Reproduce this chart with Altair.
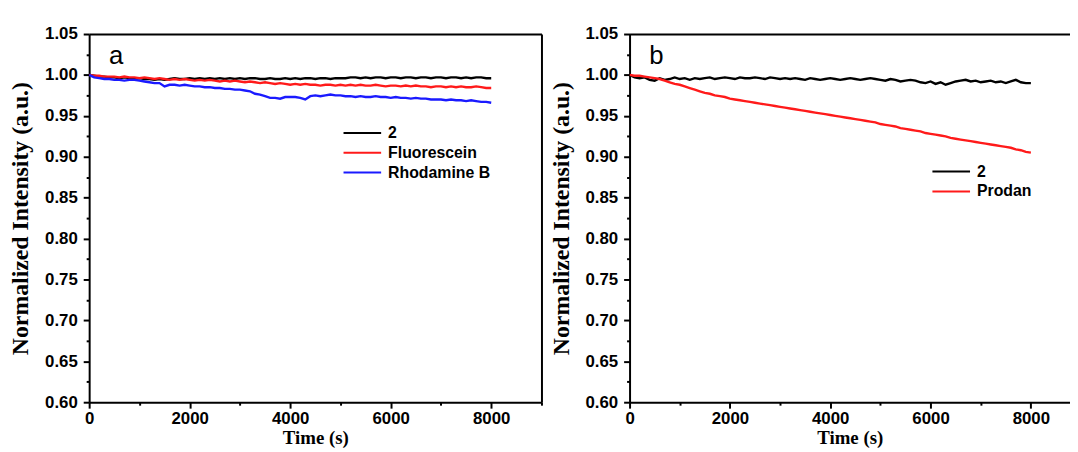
import altair as alt
import pandas as pd

# ---------------- data ----------------
TIME = list(range(0, 8001, 100))

A_SERIES = ["2", "Fluorescein", "Rhodamine B"]
A_COLORS = ["#000000", "#ff1a1a", "#1a1aff"]
B_SERIES = ["2", "Prodan"]
B_COLORS = ["#000000", "#ff1a1a"]

A_2 = [
    1.000, 0.999, 0.998, 0.998, 0.997, 0.997, 0.996, 0.997, 0.996, 0.995,
    0.996, 0.995, 0.995, 0.994, 0.995, 0.994, 0.995, 0.996, 0.995, 0.995,
    0.996, 0.995, 0.996, 0.995, 0.996, 0.995, 0.996, 0.995, 0.996, 0.995,
    0.996, 0.995, 0.996, 0.996, 0.995, 0.995, 0.996, 0.995, 0.995, 0.996,
    0.995, 0.996, 0.995, 0.996, 0.996, 0.995, 0.996, 0.996, 0.995, 0.996,
    0.996, 0.996, 0.997, 0.997, 0.996, 0.997, 0.996, 0.997, 0.997, 0.996,
    0.997, 0.997, 0.996, 0.997, 0.997, 0.996, 0.997, 0.997, 0.996, 0.997,
    0.997, 0.996, 0.997, 0.997, 0.996, 0.997, 0.996, 0.997, 0.997, 0.996,
    0.996,
]
A_FLUO = [
    1.000, 0.999, 0.999, 0.998, 0.998, 0.998, 0.997, 0.998, 0.997, 0.997,
    0.996, 0.997, 0.996, 0.995, 0.996, 0.995, 0.994, 0.995, 0.994, 0.995,
    0.994, 0.993, 0.994, 0.993, 0.994, 0.993, 0.992, 0.993, 0.992, 0.993,
    0.992, 0.991, 0.992, 0.991, 0.990, 0.991, 0.990, 0.989, 0.990, 0.989,
    0.988, 0.989, 0.988, 0.989, 0.988, 0.988, 0.987, 0.988, 0.988, 0.987,
    0.988, 0.987, 0.988, 0.987, 0.988, 0.987, 0.987, 0.988, 0.987, 0.986,
    0.987, 0.987, 0.986, 0.987, 0.986, 0.987, 0.986, 0.986, 0.985, 0.986,
    0.986, 0.985, 0.986, 0.985, 0.986, 0.985, 0.985, 0.986, 0.985, 0.984,
    0.984,
]
A_RHOD = [
    1.000, 0.997, 0.996, 0.995, 0.995, 0.994, 0.994, 0.993, 0.994, 0.994,
    0.993, 0.992, 0.991, 0.990, 0.990, 0.986, 0.988, 0.988, 0.987, 0.988,
    0.987, 0.986, 0.986, 0.985, 0.985, 0.984, 0.984, 0.983, 0.983, 0.982,
    0.982, 0.981, 0.980, 0.977, 0.976, 0.974, 0.972, 0.972, 0.971, 0.973,
    0.973, 0.973, 0.972, 0.970, 0.974, 0.975, 0.974, 0.975, 0.976, 0.975,
    0.975, 0.974, 0.974, 0.973, 0.974, 0.973, 0.973, 0.974, 0.973, 0.973,
    0.972, 0.973, 0.972, 0.972, 0.971, 0.972, 0.971, 0.971, 0.970, 0.970,
    0.970, 0.969, 0.970, 0.969, 0.969, 0.968, 0.969, 0.968, 0.967, 0.967,
    0.966,
]
B_2 = [
    1.000, 0.997, 0.996, 0.997, 0.994, 0.993, 0.996, 0.994, 0.995, 0.997,
    0.995, 0.996, 0.994, 0.996, 0.995, 0.996, 0.997, 0.995, 0.996, 0.997,
    0.996, 0.995, 0.997, 0.996, 0.996, 0.997, 0.996, 0.995, 0.997, 0.996,
    0.995, 0.996, 0.995, 0.996, 0.995, 0.994, 0.996, 0.995, 0.994, 0.995,
    0.996, 0.995, 0.994, 0.995, 0.996, 0.995, 0.994, 0.995, 0.996, 0.995,
    0.994, 0.993, 0.995, 0.994, 0.992, 0.993, 0.994, 0.993, 0.991, 0.990,
    0.992, 0.989, 0.991, 0.988, 0.990, 0.992, 0.993, 0.994, 0.992, 0.993,
    0.991, 0.992, 0.993, 0.991, 0.992, 0.990, 0.992, 0.994, 0.991, 0.990,
    0.990,
]
B_PRODAN = [
    1.000, 0.999, 0.999, 0.998, 0.997, 0.996, 0.995, 0.993, 0.991, 0.989,
    0.988, 0.986, 0.984, 0.982, 0.980, 0.978, 0.977, 0.975, 0.974, 0.973,
    0.971, 0.970, 0.969, 0.968, 0.967, 0.966, 0.965, 0.964, 0.963, 0.962,
    0.961, 0.960, 0.959, 0.958, 0.957, 0.956, 0.955, 0.954, 0.953, 0.952,
    0.951, 0.950, 0.949, 0.948, 0.947, 0.946, 0.945, 0.944, 0.943, 0.942,
    0.940, 0.939, 0.938, 0.937, 0.935, 0.934, 0.933, 0.932, 0.931, 0.929,
    0.928, 0.927, 0.926, 0.925, 0.923, 0.922, 0.921, 0.920, 0.919, 0.918,
    0.917, 0.916, 0.915, 0.914, 0.913, 0.912, 0.911, 0.909, 0.908, 0.906,
    0.905,
]

Y_MAJOR = [0.60, 0.65, 0.70, 0.75, 0.80, 0.85, 0.90, 0.95, 1.00, 1.05]
Y_MINOR = [0.625, 0.675, 0.725, 0.775, 0.825, 0.875, 0.925, 0.975, 1.025]
X_MAJOR = [0, 2000, 4000, 6000, 8000]
X_MINOR_A = [1000, 3000, 5000, 7000, 9000]
X_MINOR_B = [1000, 3000, 5000, 7000]


def long_frame(names, series):
    rows = []
    for name, vals in zip(names, series):
        for t, v in zip(TIME, vals):
            rows.append({"t": t, "v": v, "series": name})
    return pd.DataFrame(rows)


df_a = long_frame(A_SERIES, [A_2, A_FLUO, A_RHOD])
df_b = long_frame(B_SERIES, [B_2, B_PRODAN])

LABEL_FONT = "Liberation Sans"
TITLE_FONT = "Liberation Serif"


def panel(df, names, colors, lx, ly, letter, x_max, width, x_minor, right_frame):
    xs = alt.Scale(domain=[0, x_max], nice=False, zero=False)
    ys = alt.Scale(domain=[0.6, 1.05], nice=False, zero=False)
    base = alt.Chart(df)

    lines = base.mark_line(strokeWidth=2.4, clip=True).encode(
        x=alt.X("t:Q", scale=xs, title="Time (s)",
                axis=alt.Axis(values=X_MAJOR, format="d", tickSize=6,
                              labelPadding=3, titlePadding=2)),
        y=alt.Y("v:Q", scale=ys, title="Normalized Intensity (a.u.)",
                axis=alt.Axis(values=Y_MAJOR, format=".2f", tickSize=6,
                              labelPadding=6, titlePadding=12,
                              titleFontSize=24)),
        color=alt.Color(
            "series:N",
            scale=alt.Scale(domain=names, range=colors),
            legend=alt.Legend(
                title=None, orient="none", legendX=lx, legendY=ly,
                symbolType="stroke", symbolSize=1444, symbolStrokeWidth=2,
                labelFont=LABEL_FONT, labelFontSize=16, labelFontWeight="bold",
                labelColor="black", labelOffset=6, clipHeight=20,
                rowPadding=0, padding=0,
            ),
        ),
    )

    minor = base.mark_line(strokeOpacity=0).encode(
        x=alt.X("t:Q", scale=xs, title=None,
                axis=alt.Axis(values=x_minor, tickSize=3, labels=False,
                              domain=False, orient="bottom")),
        y=alt.Y("v:Q", scale=ys, title=None,
                axis=alt.Axis(values=Y_MINOR, tickSize=3, labels=False,
                              domain=False, orient="left")),
    )

    if right_frame:
        y_frame = alt.Y("v:Q", scale=ys, title=None,
                        axis=alt.Axis(orient="right", labels=False, ticks=False,
                                      domain=True, minExtent=0))
    else:
        y_frame = alt.Y("v:Q", scale=ys, axis=None)

    frame = base.mark_line(strokeOpacity=0).encode(
        x=alt.X("t:Q", scale=xs, title=None,
                axis=alt.Axis(orient="top", labels=False, ticks=False,
                              domain=True, minExtent=0)),
        y=y_frame,
    )

    txt = alt.Chart(pd.DataFrame({"lab": [letter]})).mark_text(
        font=LABEL_FONT, fontSize=26, align="left", baseline="alphabetic",
        color="black",
    ).encode(text="lab:N", x=alt.value(20), y=alt.value(30))

    return alt.layer(lines, minor, frame, txt).resolve_axis(
        x="independent", y="independent"
    ).properties(width=width, height=372)


left = panel(df_a, A_SERIES, A_COLORS, 256, 90, "a", 9000, 457, X_MINOR_A, True)
right = panel(df_b, B_SERIES, B_COLORS, 305, 129, "b", 8780, 445, X_MINOR_B, False)

chart = alt.hconcat(left, right, spacing=6).resolve_scale(
    color="independent"
).properties(
    padding={"left": 0, "top": 15, "right": 0, "bottom": 0},
    background="white",
).configure_view(
    strokeWidth=0
).configure_axis(
    domainColor="black", domainWidth=2, tickColor="black", tickWidth=2,
    labelColor="black", titleColor="black", grid=False,
    labelFont=LABEL_FONT, labelFontWeight="bold", labelFontSize=17,
    titleFont=TITLE_FONT, titleFontWeight="bold", titleFontSize=19,
    labelFlush=False, labelOverlap=False,
)

chart.save("out.html", embed_options={"renderer": "svg", "actions": False})
